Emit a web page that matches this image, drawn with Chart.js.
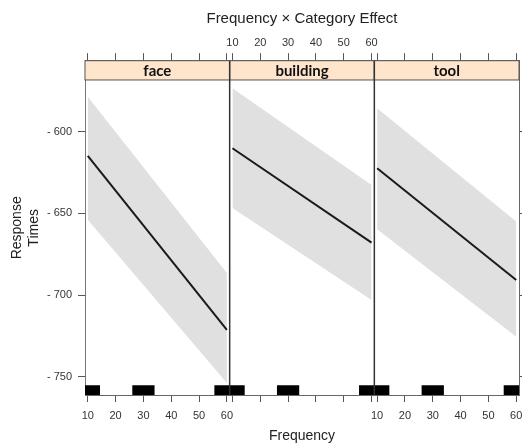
<!DOCTYPE html>
<html>
<head>
<meta charset="utf-8">
<script src="https://cdn.jsdelivr.net/npm/chart.js@4"></script>
<style>
  body { margin: 0; background: #fff; }
  #wrap { width: 522px; height: 445px; position: relative; }
</style>
</head>
<body>
<div id="wrap"><canvas id="chart1"></canvas></div>
<script>
// panels and fitted effect (value at frequency 10 and at 60)
const panels = ['face', 'building', 'tool'];
const fitX = [10, 60];
const fitStart = [614.9, 610.2, 622.4];
const fitEnd = [721.4, 667.9, 690.8];
const upperStart = [578.6, 573.4, 585.7];
const upperEnd = [686.5, 632.6, 655.0];
const lowerStart = [654.0, 646.7, 659.7];
const lowerEnd = [753.8, 703.0, 725.5];

// rug of observed frequencies (same in every panel)
const rugFrom = [9, 26, 55.5];
const rugTo = [14.4, 34, 61];
const rugY = 758.3;

const xTicks = [10, 20, 30, 40, 50, 60];
const yTicks = [600, 650, 700, 750];

// each panel covers 9..61 on its own, laid side by side
const xLo = 9, span = 52;
const yTop = 556.6, yBottom = 761.2, stripBottomVal = 568.4;

const fontFam = "'Liberation Sans', Arial, sans-serif";

function px(p, v) { return p * span + v; }

let datasets = [];
for (let p = 0; p < panels.length; p++) {
    datasets.push({
        data: [{x: px(p, fitX[0]), y: upperStart[p]}, {x: px(p, fitX[1]), y: upperEnd[p]}],
        borderWidth: 0, pointRadius: 0, fill: false, order: 2
    });
    datasets.push({
        data: [{x: px(p, fitX[0]), y: lowerStart[p]}, {x: px(p, fitX[1]), y: lowerEnd[p]}],
        borderWidth: 0, pointRadius: 0, fill: '-1', backgroundColor: '#e0e0e0', order: 2
    });
}
for (let p = 0; p < panels.length; p++) {
    datasets.push({
        data: [{x: px(p, fitX[0]), y: fitStart[p]}, {x: px(p, fitX[1]), y: fitEnd[p]}],
        borderColor: '#1a1a1a', borderWidth: 2, pointRadius: 0, fill: false, order: 1
    });
}
for (let p = 0; p < panels.length; p++) {
    let rug = [];
    for (let i = 0; i < rugFrom.length; i++) {
        rug.push({x: px(p, rugFrom[i]), y: rugY});
        rug.push({x: px(p, rugTo[i]), y: rugY});
        rug.push({x: px(p, rugTo[i]) + 0.01, y: null});
    }
    datasets.push({
        data: rug, borderColor: '#000', borderWidth: 10, borderCapStyle: 'butt',
        pointRadius: 0, fill: false, spanGaps: false, order: 0
    });
}

let allTicks = [];
for (let p = 0; p < panels.length; p++) {
    xTicks.forEach(v => allTicks.push({value: px(p, v), panel: p, label: String(v)}));
}

function tickLabel(value, shownPanels) {
    const t = allTicks.find(t => Math.abs(t.value - value) < 0.001);
    if (!t) return '';
    return shownPanels.includes(t.panel) ? t.label : '';
}

const stripPlugin = {
    id: 'strips',
    afterDatasetsDraw(chart) {
        const ctx = chart.ctx;
        const xs = chart.scales.x, ys = chart.scales.y;
        const top = chart.chartArea.top, bottom = chart.chartArea.bottom;
        const sb = ys.getPixelForValue(stripBottomVal);
        ctx.save();
        for (let p = 0; p < panels.length; p++) {
            const x0 = xs.getPixelForValue(px(p, xLo));
            const x1 = xs.getPixelForValue(px(p, xLo + span));
            ctx.fillStyle = '#ffe5cc';
            ctx.fillRect(x0, top, x1 - x0, sb - top);
            ctx.strokeStyle = '#555';
            ctx.lineWidth = 1;
            ctx.strokeRect(x0, top, x1 - x0, sb - top);
            ctx.fillStyle = '#111';
            ctx.font = "bold 15px Lato, 'Open Sans', sans-serif";
            ctx.textAlign = 'center';
            ctx.textBaseline = 'middle';
            ctx.fillText(panels[p], (x0 + x1) / 2, (top + sb) / 2 + 0.5);
        }
        // panel dividers
        ctx.strokeStyle = '#333';
        ctx.lineWidth = 1.5;
        for (let p = 1; p < panels.length; p++) {
            const xd = xs.getPixelForValue(px(p, xLo));
            ctx.beginPath();
            ctx.moveTo(xd, top);
            ctx.lineTo(xd, bottom);
            ctx.stroke();
        }
        ctx.restore();
    }
};

const gridOpts = {drawOnChartArea: false, tickLength: 7, color: '#555'};
const tickFont = {family: fontFam, size: 11};

function fitX_axis(h) {
    return s => { s.height = h; s.paddingLeft = 0; s.paddingRight = 0; };
}

new Chart(document.getElementById('chart1'), {
    type: 'line',
    data: {datasets: datasets},
    plugins: [stripPlugin],
    options: {
        responsive: true,
        maintainAspectRatio: false,
        animation: false,
        layout: {padding: 0},
        plugins: {legend: {display: false}, tooltip: {enabled: false}, title: {display: false}},
        scales: {
            x: {
                type: 'linear', position: 'bottom', min: xLo, max: xLo + 3 * span,
                afterBuildTicks: s => { s.ticks = allTicks.map(t => ({value: t.value})); },
                ticks: {autoSkip: false, maxRotation: 0, padding: 7, color: '#333', font: tickFont,
                        callback: v => tickLabel(v, [0, 2])},
                grid: gridOpts,
                border: {display: true, color: '#666'},
                title: {display: true, text: 'Frequency', color: '#222',
                        font: {family: fontFam, size: 14}, padding: {top: 4, bottom: 0}},
                afterFit: fitX_axis(50)
            },
            x2: {
                type: 'linear', position: 'top', min: xLo, max: xLo + 3 * span,
                afterBuildTicks: s => { s.ticks = allTicks.map(t => ({value: t.value})); },
                ticks: {autoSkip: false, maxRotation: 0, padding: 4, color: '#333', font: tickFont,
                        callback: v => tickLabel(v, [1])},
                grid: {drawOnChartArea: false, tickLength: 7.5, color: '#555'},
                border: {display: true, color: '#666'},
                title: {display: true, text: 'Frequency × Category Effect', color: '#222',
                        font: {family: fontFam, size: 15}, padding: {top: 10, bottom: 0}},
                afterFit: fitX_axis(60.7)
            },
            y: {
                type: 'linear', position: 'left', reverse: true, min: yTop, max: yBottom,
                afterBuildTicks: s => { s.ticks = yTicks.map(v => ({value: v})); },
                ticks: {padding: 6, color: '#333', font: tickFont, callback: v => '- ' + v},
                grid: gridOpts,
                border: {display: true, color: '#777'},
                title: {display: true, text: ['Response', 'Times'], color: '#222',
                        font: {family: fontFam, size: 14, lineHeight: 1.2}, padding: {top: 9, bottom: 0}},
                afterFit: s => { s.width = 85; s.paddingTop = 0; s.paddingBottom = 0; }
            },
            y2: {
                type: 'linear', position: 'right', reverse: true, min: yTop, max: yBottom,
                afterBuildTicks: s => { s.ticks = yTicks.map(v => ({value: v})); },
                ticks: {display: false},
                grid: {drawOnChartArea: false, tickLength: 4, color: '#555'},
                border: {display: true, color: '#666'},
                afterFit: s => { s.width = 3; s.paddingTop = 0; s.paddingBottom = 0; }
            }
        }
    }
});
</script>
</body>
</html>
